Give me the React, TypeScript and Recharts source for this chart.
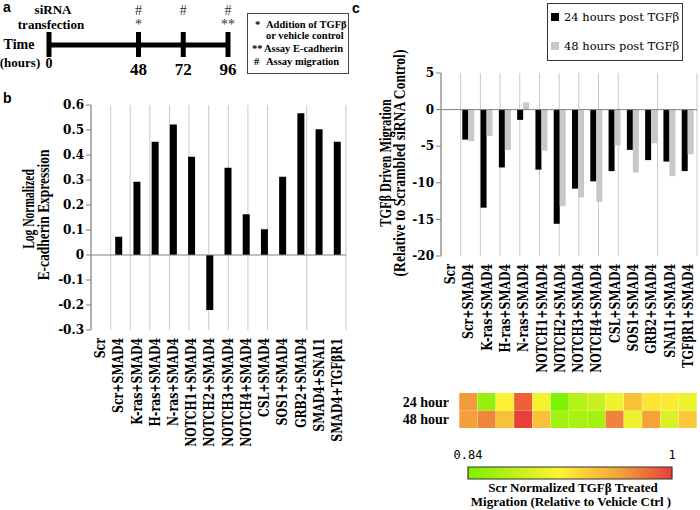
import React from 'react';
import { BarChart, Bar, XAxis, YAxis, CartesianGrid, ReferenceLine, Cell, ComposedChart, Line } from 'recharts';

// panel a - timeline
const timelineHours = [0, 48, 72, 96];
const timelineAbove = ['', '#', '#', '#'];
const timelineBelow = ['', '*', '', '**'];

// panel b - E-cadherin
const ecadCategories = [
  'Scr', 'Scr+SMAD4', 'K-ras+SMAD4', 'H-ras+SMAD4', 'N-ras+SMAD4', 'NOTCH1+SMAD4', 'NOTCH2+SMAD4',
  'NOTCH3+SMAD4', 'NOTCH4+SMAD4', 'CSL+SMAD4', 'SOS1+SMAD4', 'GRB2+SMAD4', 'SMAD4+SNAI1', 'SMAD4+TGFβR1',
];
const ecadValues = [0, 0.073, 0.293, 0.453, 0.522, 0.393, -0.22, 0.349, 0.163, 0.103, 0.313, 0.567, 0.503, 0.453];
const ecadTicks = [-0.3, -0.2, -0.1, 0, 0.1, 0.2, 0.3, 0.4, 0.5, 0.6];

// panel c - migration
const migCategories = [
  'Scr', 'Scr+SMAD4', 'K-ras+SMAD4', 'H-ras+SMAD4', 'N-ras+SMAD4', 'NOTCH1+SMAD4', 'NOTCH2+SMAD4',
  'NOTCH3+SMAD4', 'NOTCH4+SMAD4', 'CSL+SMAD4', 'SOS1+SMAD4', 'GRB2+SMAD4', 'SNAI1+SMAD4', 'TGFβR1+SMAD4',
];
const mig24 = [0, -4.1, -13.4, -7.9, -1.4, -8.2, -15.6, -10.8, -9.8, -8.4, -5.5, -6.9, -7.1, -8.4];
const mig48 = [0, -4.3, -3.6, -5.5, 1.0, -5.6, -13.2, -12.0, -12.6, -4.9, -8.6, -4.6, -9.1, -6.1];
const migTicks = [5, 0, -5, -10, -15, -20];
const migSeries = ['24 hours post TGFβ', '48 hours post TGFβ'];

// heatmap
const heatRows = ['24 hour', '48 hour'];
const heat24 = [null, 0.962, 0.855, 0.909, 0.987, 0.905, 0.841, 0.872, 0.883, 0.904, 0.94, 0.92, 0.917, 0.902];
const heat48 = [null, 0.96, 0.971, 0.94, 1.0, 0.94, 0.861, 0.864, 0.861, 0.972, 0.902, 0.958, 0.891, 0.937];
const scaleTicks = [0.84, 1];

const SERIF = '"DejaVu Serif", serif';
const TIMES = '"Liberation Serif", serif';
const GRID = '#c9c9c9';
const AXIS = '#808080';

const heatStops: { t: number; c: number[] }[] = [
  { t: 0, c: [124, 240, 0] },
  { t: 0.45, c: [255, 242, 52] },
  { t: 0.75, c: [243, 160, 58] },
  { t: 1, c: [232, 64, 56] },
];
const heatColor = (v: number | null) => {
  if (v == null) return 'none';
  const t = Math.max(0, Math.min(1, (v - 0.84) / 0.16));
  for (let i = 1; i < heatStops.length; i++) {
    const a = heatStops[i - 1];
    const b = heatStops[i];
    if (t <= b.t) {
      const f = (t - a.t) / (b.t - a.t);
      const c = a.c.map((ch, k) => Math.round(ch + (b.c[k] - ch) * f));
      return `rgb(${c[0]},${c[1]},${c[2]})`;
    }
  }
  return 'rgb(232,64,56)';
};

const timelineData = timelineHours.map((hour, i) => ({ hour, y: 0, above: timelineAbove[i], below: timelineBelow[i] }));
const ecadData = ecadCategories.map((name, i) => ({ name, value: ecadValues[i] }));
const migData = migCategories.map((name, i) => ({ name, h24: mig24[i], h48: mig48[i] }));
const heatData = migCategories.map((name, i) => ({
  name,
  r48: heat48[i] == null ? null : 1,
  r24: heat24[i] == null ? null : 1,
}));
const scaleData = [{ name: 'scale', range: scaleTicks }];
const gridTicks = migCategories.map((_, i) => i).concat(migCategories.length);

const RotatedTick = (props: any) => {
  const { x, y, payload } = props;
  return (
    <g transform={`translate(${x},${y})`}>
      <text transform="rotate(-90) scale(0.78,1)" x={0} y={0} dy="0.36em" textAnchor="end"
        fontFamily={SERIF} fontWeight="bold" fontSize={14} fill="#000">
        {payload.value}
      </text>
    </g>
  );
};

const RowTick = (props: any) => {
  const { x, y, payload } = props;
  return (
    <text x={x + 16} y={y} dy="0.35em" textAnchor="end" fontFamily={TIMES} fontWeight="bold" fontSize={14} fill="#000">
      {payload.value > 1 ? heatRows[0] : heatRows[1]}
    </text>
  );
};

const TimelineDot = (props: any) => {
  const { cx, cy, payload } = props;
  const big = payload.hour !== 0;
  return (
    <g>
      <rect x={cx - 2.5} y={cy - 13} width={5} height={25} fill="#000" />
      <text x={cx} y={big ? cy + 30 : cy + 23} textAnchor="middle" fontFamily={TIMES} fontWeight="bold"
        fontSize={big ? 17 : 14} fill="#000">{payload.hour}</text>
      <text x={cx} y={cy - 30} textAnchor="middle" fontFamily={TIMES} fontSize={14} fill="#333">{payload.above}</text>
      <text x={cx} y={cy - 16} textAnchor="middle" fontFamily={TIMES} fontSize={14} fill="#333">{payload.below}</text>
    </g>
  );
};

const yTick = { fontFamily: SERIF, fontWeight: 'bold', fontSize: 12, fill: '#000' };

// axis titles: rotated and squeezed along their length, as in the source figure
const RotTitle = ({ x, y, sx, children }: any) => (
  <text transform={`translate(${x},${y}) rotate(-90) scale(${sx},1)`} textAnchor="middle" dy="0.36em"
    fontFamily={TIMES} fontWeight="bold" fontSize={16} fill="#000">
    {children}
  </text>
);

const abs = (left: number, top: number): React.CSSProperties => ({ position: 'absolute', left, top });

export default function App() {
  return (
    <div style={{ position: 'absolute', left: 0, top: 0, width: 700, height: 510, background: '#fff', overflow: 'hidden' }}>
      {/* a: timeline */}
      <div style={abs(0, 0)}>
        <ComposedChart width={240} height={90} data={timelineData} margin={{ top: 0, right: 12, bottom: 0, left: 49 }}>
          <XAxis dataKey="hour" type="number" domain={[0, 96]} hide />
          <YAxis domain={[-1, 1]} hide />
          <Line dataKey="y" stroke="#000" strokeWidth={5} isAnimationActive={false}
            dot={(p: any) => <TimelineDot key={p.index} {...p} />} activeDot={false} />
        </ComposedChart>
      </div>

      {/* b: E-cadherin */}
      <div style={abs(0, 0)}>
        <BarChart width={350} height={460} data={ecadData} margin={{ top: 105, right: 4, bottom: 5, left: 51 }}>
          <XAxis xAxisId="grid" type="number" domain={[0, ecadCategories.length]} ticks={gridTicks} hide />
          <CartesianGrid xAxisId="grid" horizontal={false} stroke={GRID} />
          <XAxis dataKey="name" interval={0} height={125} axisLine={false} tickLine={false} tick={<RotatedTick />} />
          <YAxis domain={[-0.3, 0.6]} ticks={ecadTicks} interval={0} width={40} tickSize={5}
            tickFormatter={(v: number) => (v === 0 ? '0' : v.toFixed(1))}
            tick={yTick} axisLine={{ stroke: AXIS }} tickLine={{ stroke: AXIS }} />
          <ReferenceLine y={0} stroke={AXIS} />
          <Bar dataKey="value" fill="#000" barSize={7} isAnimationActive={false} />
        </BarChart>
      </div>

      {/* c: migration */}
      <div style={abs(350, 0)}>
        <BarChart width={350} height={380} data={migData} margin={{ top: 73, right: 3, bottom: 9, left: 51 }}
          barGap={0}>
          <XAxis xAxisId="grid" type="number" domain={[0, migCategories.length]} ticks={gridTicks} hide />
          <CartesianGrid xAxisId="grid" horizontal={false} stroke={GRID} />
          <XAxis dataKey="name" interval={0} height={115} axisLine={false} tickLine={false} tick={<RotatedTick />} />
          <YAxis domain={[-20, 5]} ticks={migTicks} interval={0} width={40} tickSize={5}
            tick={yTick} axisLine={{ stroke: AXIS }} tickLine={{ stroke: AXIS }} />
          <ReferenceLine y={0} stroke={AXIS} />
          <Bar dataKey="h24" name={migSeries[0]} fill="#000" barSize={6} isAnimationActive={false} />
          <Bar dataKey="h48" name={migSeries[1]} fill="#c8c8c8" barSize={6} isAnimationActive={false} />
        </BarChart>
      </div>

      {/* heatmap */}
      <div style={abs(350, 385)}>
        <BarChart width={350} height={50} data={heatData} margin={{ top: 8, right: 3, bottom: 7, left: 51 }}
          barCategoryGap={0} barGap={0}>
          <XAxis dataKey="name" hide />
          <YAxis domain={[0, 2]} ticks={[0.5, 1.5]} interval={0} width={40} axisLine={false} tickLine={false}
            tick={<RowTick />} />
          <Bar dataKey="r48" stackId="h" isAnimationActive={false}>
            {heatData.map((d, i) => <Cell key={d.name} fill={heatColor(heat48[i])} />)}
          </Bar>
          <Bar dataKey="r24" stackId="h" isAnimationActive={false}>
            {heatData.map((d, i) => <Cell key={d.name} fill={heatColor(heat24[i])} />)}
          </Bar>
        </BarChart>
      </div>

      {/* colour scale */}
      <div style={abs(436, 440)}>
        <BarChart layout="vertical" width={268} height={50} data={scaleData}
          margin={{ top: 12, right: 32, bottom: 11, left: 32 }} barCategoryGap={0}>
          <defs>
            <linearGradient id="heatGrad" x1="0" y1="0" x2="1" y2="0">
              {heatStops.map((s) => (
                <stop key={s.t} offset={`${s.t * 100}%`} stopColor={`rgb(${s.c.join(',')})`} />
              ))}
            </linearGradient>
          </defs>
          <XAxis type="number" orientation="top" domain={scaleTicks} ticks={scaleTicks} interval={0} height={15}
            axisLine={false} tickLine={false} tickFormatter={(v: number) => String(v)}
            tick={{ fontFamily: '"DejaVu Sans Mono", monospace', fontSize: 12, fill: '#000' }} />
          <YAxis type="category" dataKey="name" hide />
          <Bar dataKey="range" fill="url(#heatGrad)" stroke="#333" strokeWidth={1.2} isAnimationActive={false} />
        </BarChart>
      </div>

      {/* text overlay */}
      <svg width={700} height={510} style={{ position: 'absolute', left: 0, top: 0, pointerEvents: 'none' }}>
        <g fontFamily='"Liberation Sans", Arial, sans-serif' fontWeight="bold" fontSize={14} fill="#000">
          <text x={3} y={12}>a</text>
          <text x={3} y={103}>b</text>
          <text x={352} y={13}>c</text>
        </g>

        <g fontFamily={TIMES} fontWeight="bold" fill="#000" textAnchor="middle">
          <text x={53} y={14} fontSize={13}>siRNA</text>
          <text x={51} y={29} fontSize={13}>transfection</text>
          <text x={19} y={49} fontSize={14}>Time</text>
          <text x={20} y={67} fontSize={13}>(hours)</text>
        </g>
        <rect x={247.5} y={13.5} width={101} height={60} fill="none" stroke="#444" />
        <g fontFamily={TIMES} fontWeight="bold" fontSize={10.5} fill="#000">
          <text x={255} y={28}>*</text>
          <text x={266} y={28}>Addition of TGFβ</text>
          <text x={266} y={39}>or vehicle control</text>
          <text x={252} y={52}>**</text>
          <text x={264} y={52}>Assay E-cadherin</text>
          <text x={254} y={65}>#</text>
          <text x={266} y={65}>Assay migration</text>
        </g>

        <RotTitle x={28} y={209} sx={0.72}>Log Normalized</RotTitle>
        <RotTitle x={43} y={215} sx={0.84}>E-cadherin Expression</RotTitle>
        <RotTitle x={385} y={163} sx={0.77}>TGFβ Driven Migration</RotTitle>
        <RotTitle x={399} y={163} sx={0.85}>(Relative to Scrambled siRNA Control)</RotTitle>

        <rect x={547.5} y={3.5} width={135} height={57} fill="none" stroke="#333" />
        <rect x={551} y={13} width={8} height={8} fill="#000" />
        <rect x={551} y={42} width={8} height={8} fill="#c8c8c8" />
        <g fontFamily={SERIF} fontSize={11.5} fill="#000">
          <text x={564} y={21}>{migSeries[0]}</text>
          <text x={564} y={50}>{migSeries[1]}</text>
        </g>

        <g fontFamily={TIMES} fontWeight="bold" fontSize={13} fill="#000" textAnchor="middle">
          <text x={573} y={492}>Scr Normalized TGFβ Treated</text>
          <text x={571} y={506}>Migration (Relative to Vehicle Ctrl )</text>
        </g>
      </svg>
    </div>
  );
}
